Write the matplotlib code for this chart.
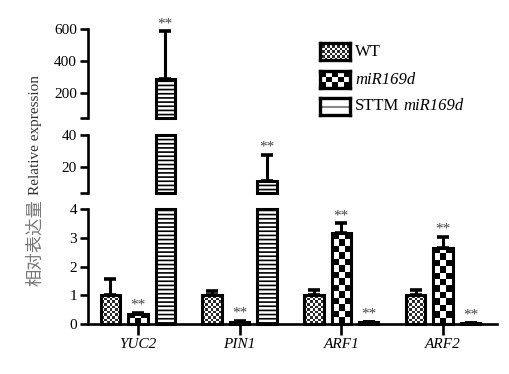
import numpy as np
import matplotlib
matplotlib.use('Agg')
import matplotlib.pyplot as plt
from matplotlib.patches import Rectangle
from matplotlib.colors import ListedColormap

plt.rcParams['font.family'] = ['Liberation Serif', 'DejaVu Serif']
plt.rcParams['hatch.linewidth'] = 1.2

# data
genes = ['YUC2', 'PIN1', 'ARF1', 'ARF2']
wt = [1.0, 1.0, 1.0, 1.0]
wt_err = [0.55, 0.15, 0.2, 0.2]
mir = [0.35, 0.08, 3.15, 2.65]
mir_err = [0.05, 0.03, 0.35, 0.38]
sttm = [285.0, 11.0, 0.06, 0.03]
sttm_err = [300.0, 16.5, 0.02, 0.01]
sig_mir = ['**', '**', '**', '**']
sig_sttm = ['**', '**', '**', '**']

values = [wt, mir, sttm]
errors = [wt_err, mir_err, sttm_err]
signif = [None, sig_mir, sig_sttm]
offsets = [-0.27, 0.0, 0.27]
width = 0.19

# broken y axis: (lo, hi, ticks, axes top/bottom in pixels)
W, H = 509, 374
segments = [
    (0.0, 4.0, [0, 1, 2, 3, 4], 209, 324),
    (3.75, 40.0, [20, 40], 135, 193),
    (44.0, 600.0, [200, 400, 600], 29, 118),
]
x_left, x_right = 88, 497
xlim = (-0.49, 3.53)

fig = plt.figure(figsize=(W / 100, H / 100), dpi=100)
fine_cmap = ListedColormap(['#2a2a2a', 'white'])
coarse_cmap = ListedColormap(['black', 'white'])


def checker(nx, ny):
    return np.indices((ny, nx)).sum(axis=0) % 2


x = np.arange(len(genes))
for lo, hi, ticks, top_px, bot_px in segments:
    ax = fig.add_axes([x_left / W, (H - bot_px) / H, (x_right - x_left) / W, (bot_px - top_px) / H])
    ax.set_xlim(*xlim)
    ax.set_ylim(lo, hi)
    for s in ['top', 'right']:
        ax.spines[s].set_visible(False)
    ax.spines['left'].set_linewidth(1.9)
    if lo > 0:
        ax.spines['bottom'].set_visible(False)
        ax.set_xticks([])
        ax.set_yticks([lo] + ticks)
        ax.set_yticklabels([''] + [str(t) for t in ticks])
    else:
        ax.spines['bottom'].set_linewidth(1.9)
        ax.set_yticks(ticks)
        ax.set_xticks(x)
        ax.set_xticklabels(genes, fontstyle='italic', fontsize=11)
        ax.tick_params(axis='x', length=8, width=1.9, pad=2)
    ax.tick_params(axis='y', length=6, width=1.9, labelsize=11, pad=2)
    ax.patch.set_visible(False)

    px_per_x = ax.transData.transform((1, 0))[0] - ax.transData.transform((0, 0))[0]
    for k, (vals, errs) in enumerate(zip(values, errors)):
        for i, v in enumerate(vals):
            xc = x[i] + offsets[k]
            t = v + errs[i]
            if v > lo:
                y0 = lo
                y1 = min(v, hi)
                if k == 2:
                    rect = Rectangle((xc - width / 2, y0), width, y1 - y0, fc='white', ec='black',
                                     lw=2.2, hatch='----', clip_on=False, zorder=4)
                    ax.add_patch(rect)
                else:
                    rect = Rectangle((xc - width / 2, y0), width, y1 - y0, fc='none', ec='black',
                                     lw=2.2, clip_on=False, zorder=4)
                    ax.add_patch(rect)
                    h_px = ax.transData.transform((0, y1))[1] - ax.transData.transform((0, y0))[1]
                    w_px = width * px_per_x
                    cell = 2.6 if k == 0 else 6.5
                    nx = max(1, int(round(w_px / cell)))
                    ny = max(1, int(round(h_px / cell)))
                    im = ax.imshow(checker(nx, ny), extent=(xc - width / 2, xc + width / 2, y0, y1),
                                   cmap=fine_cmap if k == 0 else coarse_cmap, interpolation='nearest',
                                   aspect='auto', zorder=3)
                    im.set_clip_path(rect)
            if t > lo and v < hi:
                ax.errorbar([xc], [v], yerr=[[0], [errs[i]]], fmt='none', ecolor='black',
                            elinewidth=2.2, capsize=4.5, capthick=2.6, zorder=3.5)
            if signif[k] is not None and lo <= t < hi:
                ax.annotate(signif[k][i], (xc, t), xytext=(0, 1), textcoords='offset pixels',
                            ha='center', va='bottom', fontsize=11, color='#444444', zorder=5)
    ax.set_xlim(*xlim)
    ax.set_ylim(lo, hi)

# y axis label, Chinese part in grey
fig.text(35 / W, (H - 195) / H, 'Relative expression', rotation=90, ha='center', va='bottom',
         fontsize=11, color='#333333')
fig.text(35 / W, (H - 199) / H, '相对表达量', rotation=90, ha='center', va='top',
         fontsize=12.5, color='#777777', family=['Noto Sans CJK SC', 'DejaVu Sans'])

# legend drawn as three small boxes with labels
leg_tops = [43, 71, 98]
leg_labels = [[('WT', 'normal')],
              [('miR169d', 'italic')],
              [('STTM', 'normal'), ('miR169d', 'italic')]]
for k, top in enumerate(leg_tops):
    lax = fig.add_axes([320 / W, (H - top - 17) / H, 30 / W, 17 / H])
    lax.set_xticks([])
    lax.set_yticks([])
    for s in lax.spines.values():
        s.set_linewidth(2.4)
    if k == 0:
        lax.imshow(checker(12, 7), extent=(0, 1, 0, 1), cmap=fine_cmap, interpolation='nearest', aspect='auto')
    elif k == 1:
        lax.imshow(checker(5, 3), extent=(0, 1, 0, 1), cmap=coarse_cmap, interpolation='nearest', aspect='auto')
    else:
        lax.axhline(0.5, color='#888888', lw=1.5)
    lax.set_xlim(0, 1)
    lax.set_ylim(0, 1)
    xpos = 355
    for label, style in leg_labels[k]:
        fig.text(xpos / W, (H - top - 8.5) / H, label, ha='left', va='center', fontsize=12,
                 fontstyle=style)
        xpos += 48

fig.savefig('out.png', dpi=100)
